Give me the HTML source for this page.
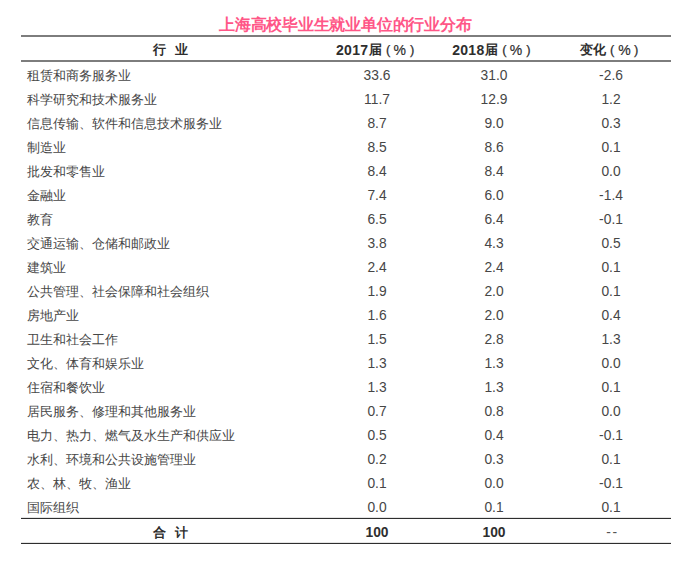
<!DOCTYPE html>
<html><head><meta charset="utf-8"><style>
html,body{margin:0;padding:0;background:#fff;width:700px;height:564px;overflow:hidden}
body{position:relative;font-family:"Liberation Sans",sans-serif;font-size:13px;color:#464646}
.t{position:absolute;left:0;width:700px;top:15px;font-size:16px;line-height:20px;color:#ff5687;font-weight:600}
.t span{position:absolute;left:219px;white-space:nowrap;letter-spacing:-0.22px}
.ln{position:absolute;left:21px;width:650px}
.r{position:absolute;left:0;width:700px;height:24px;line-height:24px;white-space:nowrap}
.r span{position:absolute}
.c1{left:26.8px}
.c{width:120px;text-align:center}
.num{font-size:13.8px;top:0px}
.c2{left:317px}.c3{left:434px}.c4{left:551px}
.h{font-weight:bold;color:#2e2e2e}
.hd{font-size:14px;letter-spacing:0.3px;top:-0.5px}
.pp{font-weight:normal;-webkit-text-stroke:0.25px}
.pc{font-weight:normal;font-size:14px;top:-0.5px;-webkit-text-stroke:0.2px}
</style></head><body>
<div class="t"><span>上海高校毕业生就业单位的行业分布</span></div>
<div class="ln" style="top:35px;height:2px;background:#7d7d7d"></div>
<div class="ln" style="top:60px;height:2px;background:#7d7d7d"></div>
<div class="ln" style="top:518px;height:1px;background:#2e2e2e;box-shadow:0 -1px 0 #e4e4e4"></div>
<div class="ln" style="top:543px;height:1px;background:#2e2e2e;box-shadow:0 -1px 0 #e4e4e4"></div>
<div class="r h" style="top:38px"><span style="left:152.7px">行</span><span style="left:174.6px">业</span><span class="hd" style="left:336.0px">2017</span><span style="left:369.0px">届</span><span class="pp" style="left:386.0px">(</span><span class="pc" style="left:393.6px">%</span><span class="pp" style="left:410.0px">)</span><span class="hd" style="left:452.2px">2018</span><span style="left:485.2px">届</span><span class="pp" style="left:502.2px">(</span><span class="pc" style="left:509.8px">%</span><span class="pp" style="left:526.2px">)</span><span style="left:580.0px">变化</span><span class="pp" style="left:610.0px">(</span><span class="pc" style="left:618.2px">%</span><span class="pp" style="left:634.0px">)</span></div>
<div class="r" style="top:64px"><span class="c1">租赁和商务服务业</span><span class="c c2 num">33.6</span><span class="c c3 num">31.0</span><span class="c c4 num">-2.6</span></div>
<div class="r" style="top:88px"><span class="c1">科学研究和技术服务业</span><span class="c c2 num">11.7</span><span class="c c3 num">12.9</span><span class="c c4 num">1.2</span></div>
<div class="r" style="top:112px"><span class="c1">信息传输、软件和信息技术服务业</span><span class="c c2 num">8.7</span><span class="c c3 num">9.0</span><span class="c c4 num">0.3</span></div>
<div class="r" style="top:136px"><span class="c1">制造业</span><span class="c c2 num">8.5</span><span class="c c3 num">8.6</span><span class="c c4 num">0.1</span></div>
<div class="r" style="top:160px"><span class="c1">批发和零售业</span><span class="c c2 num">8.4</span><span class="c c3 num">8.4</span><span class="c c4 num">0.0</span></div>
<div class="r" style="top:184px"><span class="c1">金融业</span><span class="c c2 num">7.4</span><span class="c c3 num">6.0</span><span class="c c4 num">-1.4</span></div>
<div class="r" style="top:208px"><span class="c1">教育</span><span class="c c2 num">6.5</span><span class="c c3 num">6.4</span><span class="c c4 num">-0.1</span></div>
<div class="r" style="top:232px"><span class="c1">交通运输、仓储和邮政业</span><span class="c c2 num">3.8</span><span class="c c3 num">4.3</span><span class="c c4 num">0.5</span></div>
<div class="r" style="top:256px"><span class="c1">建筑业</span><span class="c c2 num">2.4</span><span class="c c3 num">2.4</span><span class="c c4 num">0.1</span></div>
<div class="r" style="top:280px"><span class="c1">公共管理、社会保障和社会组织</span><span class="c c2 num">1.9</span><span class="c c3 num">2.0</span><span class="c c4 num">0.1</span></div>
<div class="r" style="top:304px"><span class="c1">房地产业</span><span class="c c2 num">1.6</span><span class="c c3 num">2.0</span><span class="c c4 num">0.4</span></div>
<div class="r" style="top:328px"><span class="c1">卫生和社会工作</span><span class="c c2 num">1.5</span><span class="c c3 num">2.8</span><span class="c c4 num">1.3</span></div>
<div class="r" style="top:352px"><span class="c1">文化、体育和娱乐业</span><span class="c c2 num">1.3</span><span class="c c3 num">1.3</span><span class="c c4 num">0.0</span></div>
<div class="r" style="top:376px"><span class="c1">住宿和餐饮业</span><span class="c c2 num">1.3</span><span class="c c3 num">1.3</span><span class="c c4 num">0.1</span></div>
<div class="r" style="top:400px"><span class="c1">居民服务、修理和其他服务业</span><span class="c c2 num">0.7</span><span class="c c3 num">0.8</span><span class="c c4 num">0.0</span></div>
<div class="r" style="top:424px"><span class="c1">电力、热力、燃气及水生产和供应业</span><span class="c c2 num">0.5</span><span class="c c3 num">0.4</span><span class="c c4 num">-0.1</span></div>
<div class="r" style="top:448px"><span class="c1">水利、环境和公共设施管理业</span><span class="c c2 num">0.2</span><span class="c c3 num">0.3</span><span class="c c4 num">0.1</span></div>
<div class="r" style="top:472px"><span class="c1">农、林、牧、渔业</span><span class="c c2 num">0.1</span><span class="c c3 num">0.0</span><span class="c c4 num">-0.1</span></div>
<div class="r" style="top:496px"><span class="c1">国际组织</span><span class="c c2 num">0.0</span><span class="c c3 num">0.1</span><span class="c c4 num">0.1</span></div>
<div class="r h" style="top:521px"><span style="left:152.7px">合</span><span style="left:174.6px">计</span><span class="c c2 num" style="top:0">100</span><span class="c c3 num" style="top:0">100</span><span class="c c4 num" style="font-weight:normal;color:#555;letter-spacing:1.6px;text-indent:2.8px">--</span></div>
</body></html>
